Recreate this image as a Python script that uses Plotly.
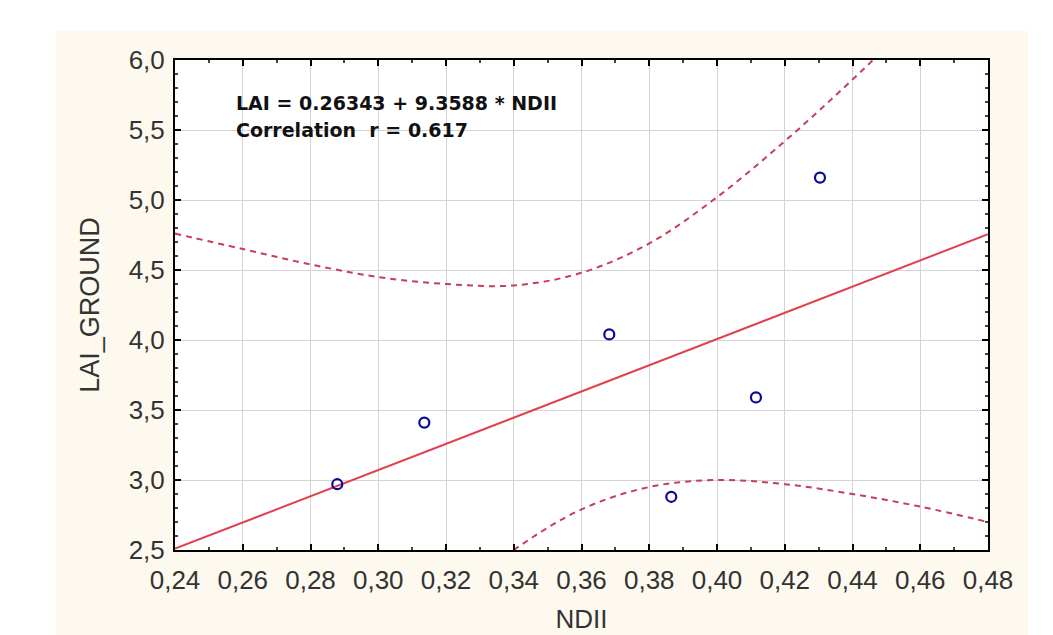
import plotly.graph_objects as go

ndii = [0.2879, 0.3136, 0.3682, 0.3865, 0.4115, 0.4304]
lai_ground = [2.97, 3.41, 4.04, 2.88, 3.59, 5.16]

# Regression line (from printed equation)
intercept = 0.26343
slope = 9.3588
line_x = [0.24, 0.48]

# 95% confidence band
band_x = [0.24, 0.26, 0.28, 0.30, 0.32, 0.34, 0.36, 0.38, 0.40, 0.42, 0.44, 0.46, 0.48]
band_upper = [4.76, 4.65, 4.54, 4.45, 4.40, 4.39, 4.48, 4.69, 5.02, 5.42, 5.86, 6.33, 6.81]
band_lower = [0.26, 0.75, 1.23, 1.69, 2.12, 2.50, 2.79, 2.95, 3.00, 2.97, 2.90, 2.81, 2.70]

x_ticks = [0.24, 0.26, 0.28, 0.30, 0.32, 0.34, 0.36, 0.38, 0.40, 0.42, 0.44, 0.46, 0.48]
y_ticks = [2.5, 3.0, 3.5, 4.0, 4.5, 5.0, 5.5, 6.0]

line_y = [intercept + slope * v for v in line_x]

W, H = 1053, 635
L, R, T, B = 166.5, 73, 52, 93
pw, ph = W - L - R, H - T - B

def px_x(p):
    return (p - L) / pw

def px_y(p):
    return (H - B - p) / ph

fig = go.Figure()

band_color = "#C63E58"
fig.add_trace(go.Scatter(x=band_x, y=band_upper, mode="lines", line_shape="spline",
                         line=dict(color=band_color, width=2, dash="6px,5px"),
                         hoverinfo="skip", showlegend=False))
fig.add_trace(go.Scatter(x=band_x, y=band_lower, mode="lines", line_shape="spline",
                         line=dict(color=band_color, width=2, dash="6px,5px"),
                         hoverinfo="skip", showlegend=False))
fig.add_trace(go.Scatter(x=line_x, y=line_y, mode="lines",
                         line=dict(color="#E2404E", width=2), showlegend=False))
fig.add_trace(go.Scatter(x=ndii, y=lai_ground, mode="markers",
                         marker=dict(symbol="circle-open", size=10, color="#0A0A96",
                                     line=dict(width=2.2, color="#0A0A96")),
                         showlegend=False, cliponaxis=False))

font_family = "Liberation Sans, Arial, sans-serif"
ann_font = dict(family="DejaVu Sans, sans-serif", size=19, color="#111111", weight="bold")

fig.update_layout(
    width=W, height=H,
    margin=dict(l=L, r=R, t=T, b=B, pad=0),
    paper_bgcolor="white",
    plot_bgcolor="white",
    separators=", ",
    font=dict(family=font_family, color="#333333"),
    shapes=[
        dict(type="rect", xref="paper", yref="paper", layer="below",
             x0=px_x(47), x1=px_x(1020), y0=px_y(660), y1=px_y(23),
             fillcolor="#FDF9EF", line=dict(width=0)),
        dict(type="rect", xref="paper", yref="paper", layer="below",
             x0=0, x1=1, y0=0, y1=1,
             fillcolor="white", line=dict(width=0)),
    ],
    annotations=[
        dict(xref="paper", yref="paper", x=px_x(226), y=px_y(82),
             xanchor="left", yanchor="top", align="left", showarrow=False,
             text="LAI = 0.26343 + 9.3588 * NDII", font=ann_font),
        dict(xref="paper", yref="paper", x=px_x(226), y=px_y(109),
             xanchor="left", yanchor="top", align="left", showarrow=False,
             text="Correlation  r = 0.617", font=ann_font),
    ],
)

fig.update_xaxes(
    range=[0.24, 0.48], tickvals=x_ticks, tickformat=".2f", automargin=False,
    showline=True, linecolor="black", linewidth=2, mirror="ticks",
    ticks="inside", ticklen=6, tickwidth=1.5, tickcolor="black",
    minor=dict(dtick=0.01, ticks="inside", ticklen=3, tickcolor="#444444", showgrid=False),
    showgrid=True, gridcolor="#D4D4D4", gridwidth=1, zeroline=False,
    tickfont=dict(size=26, color="#333333"), ticklabelstandoff=6,
    title=dict(text="NDII", font=dict(size=26, color="#333333"), standoff=16),
)
fig.update_yaxes(
    range=[2.5, 6.0], tickvals=y_ticks, tickformat=".1f", automargin=False,
    showline=True, linecolor="black", linewidth=2, mirror="ticks",
    ticks="inside", ticklen=6, tickwidth=1.5, tickcolor="black",
    minor=dict(dtick=0.1, ticks="inside", ticklen=3, tickcolor="#444444", showgrid=False),
    showgrid=True, gridcolor="#D4D4D4", gridwidth=1, zeroline=False,
    tickfont=dict(size=26, color="#333333"), ticklabelstandoff=3,
    title=dict(text="LAI_GROUND", font=dict(size=27, color="#333333"), standoff=21),
)

fig.write_html("out.html")
